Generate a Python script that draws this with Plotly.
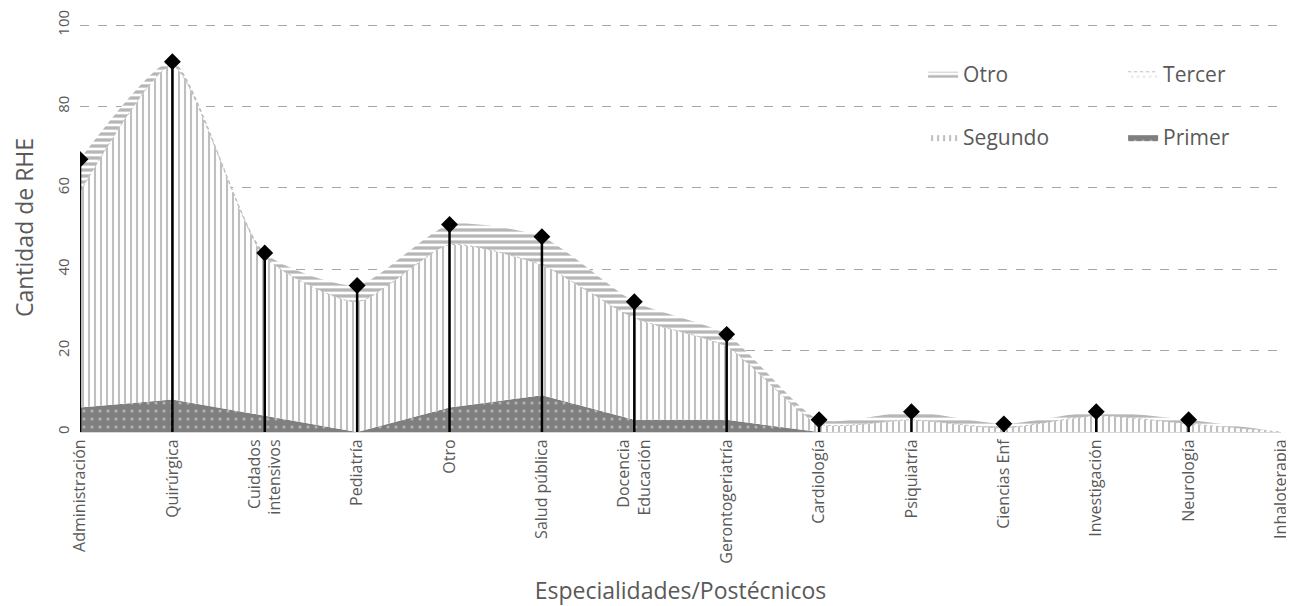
import plotly.graph_objects as go

# Categorías del eje x
categorias = ["Administración", "Quirúrgica", "Cuidados<br>intensivos", "Pediatría", "Otro",
              "Salud pública", "Docencia<br>Educación", "Gerontogeriatría", "Cardiología",
              "Psiquiatría", "Ciencias Enf", "Investigación", "Neurología", "Inhaloterapia"]

# Valores por nivel (apilados)
primer = [6, 8, 4, 0, 6, 9, 3, 3, 0, 0, 0, 0, 0, 0]
segundo = [53, 82, 39, 32, 40, 32, 25, 18, 2, 3, 1, 4, 2, 0]
tercer = [0, 0, 0, 0, 0, 0, 0, 0, 0, 0, 0, 0, 0, 0]
otro = [8, 1, 1, 4, 5, 7, 4, 3, 1, 2, 1, 1, 1, 0]

totales = [p + s + t + o for p, s, t, o in zip(primer, segundo, tercer, otro)]
x = list(range(len(categorias)))

SM = 0.6

fig = go.Figure()

# Primer: gris oscuro con puntos
fig.add_trace(go.Scatter(
    x=x, y=primer, name="Primer", stackgroup="a", mode="lines",
    line=dict(width=0, color="#7f7f7f"), line_shape="linear",
    fillpattern=dict(shape=".", bgcolor="#7f7f7f", fgcolor="#e8e8e8", size=8, solidity=0.12),
    legend="legend2", legendrank=2,
))
# Segundo: rayas verticales
fig.add_trace(go.Scatter(
    x=x, y=segundo, name="Segundo", stackgroup="a", mode="lines",
    line=dict(width=0, color="#8c8c8c", shape="spline", smoothing=SM),
    fillpattern=dict(shape="|", bgcolor="white", fgcolor="#7f7f7f", size=6, solidity=0.35),
    legend="legend2", legendrank=1,
))
# Tercer: puntos claros
fig.add_trace(go.Scatter(
    x=x, y=tercer, name="Tercer", stackgroup="a", mode="lines",
    line=dict(width=1, color="#bfbfbf", shape="spline", smoothing=SM, dash="dot"),
    fillpattern=dict(shape=".", bgcolor="white", fgcolor="#cfcfcf", size=6, solidity=0.2),
    legendrank=2,
))
# Otro: rayas horizontales
fig.add_trace(go.Scatter(
    x=x, y=otro, name="Otro", stackgroup="a", mode="lines",
    line=dict(width=0, color="#707070", shape="spline", smoothing=SM),
    fillpattern=dict(shape="-", bgcolor="white", fgcolor="#6e6e6e", size=6, solidity=0.55),
    legendrank=1,
))

# Totales: rombos negros con línea hasta el eje
tot_plot = [t if t > 0 else None for t in totales]
fig.add_trace(go.Scatter(
    x=x, y=tot_plot, mode="markers", showlegend=False,
    marker=dict(symbol="diamond", size=13, color="black"),
    error_y=dict(type="data", symmetric=False, array=[0] * len(x),
                 arrayminus=[t or 0 for t in tot_plot], color="black", thickness=2.5, width=0),
))

leg = dict(orientation="h", xanchor="left", yanchor="middle",
           font=dict(size=21, color="#595959"), entrywidth=155, itemwidth=30,
           bgcolor="rgba(0,0,0,0)", traceorder="normal")

fig.update_layout(
    width=1286, height=598,
    margin=dict(l=72, r=13, t=15, b=174, autoexpand=False),
    plot_bgcolor="white", paper_bgcolor="white",
    font=dict(family="Open Sans", color="#595959"),
    legend=dict(leg, x=0.702, y=0.875),
    legend2=dict(leg, x=0.702, y=0.72),
)

fig.update_xaxes(
    range=[0, 13], tickmode="array", tickvals=x, ticktext=categorias,
    tickangle=-90, tickfont=dict(size=16, color="#595959"),
    showgrid=False, zeroline=False, showline=True, linecolor="#d9d9d9", linewidth=1,
    title=dict(text="Especialidades/Postécnicos", font=dict(size=23, color="#595959"), standoff=26),
)
fig.update_yaxes(
    range=[0, 100.5], tick0=0, dtick=20, tickangle=-90, ticklabelstandoff=7,
    tickfont=dict(size=15, color="#595959"),
    showgrid=True, gridcolor="#a6a6a6", griddash="dash", gridwidth=1,
    zeroline=False, showline=False,
    title=dict(text="Cantidad de RHE", font=dict(size=23, color="#595959"), standoff=15),
)

fig.write_html("out.html")
